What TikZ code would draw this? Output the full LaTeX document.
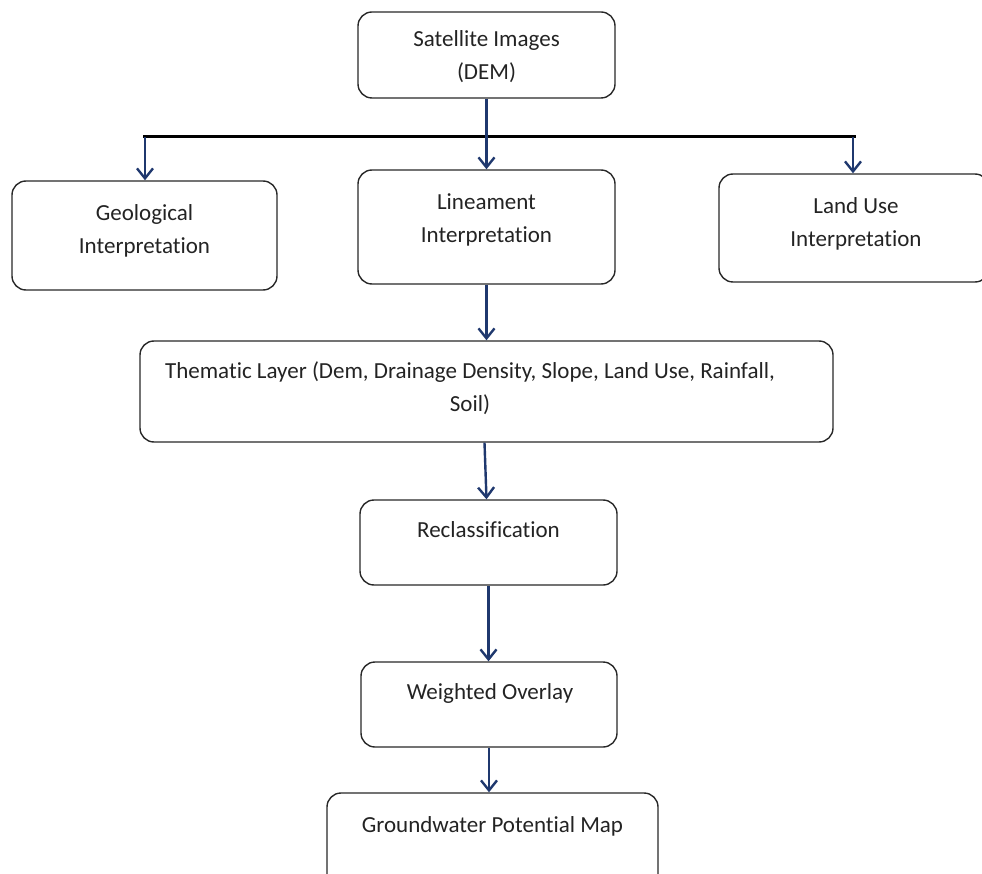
\documentclass[tikz,border=0pt]{standalone}
\usepackage{fontspec}
\setmainfont{Carlito}[Ligatures=NoCommon]
\usetikzlibrary{arrows.meta}
\definecolor{navy}{RGB}{31,56,110}
\definecolor{txtc}{RGB}{35,35,35}
\definecolor{edgec}{RGB}{40,40,40}
\tikzset{
  box/.style={draw=edgec, line width=1.4pt, rounded corners=14pt, inner sep=0pt},
  txt/.style={text=txtc, font=\fontsize{23}{33}\selectfont, align=center, inner sep=0pt},
  arr/.style={draw=navy, line width=2.4pt, -{Straight Barb[length=10pt,width=16pt,line width=2.4pt]}},
  bar/.style={draw=black, line width=3pt}
}
\begin{document}
\begin{tikzpicture}[x=1pt,y=-1pt]
\useasboundingbox (0,0) rectangle (982,874);
\clip (0,0) rectangle (982,874);
% boxes
\node[box, minimum width=257pt, minimum height=86pt] (sat) at (486.5,55) {};
\node[box, minimum width=265pt, minimum height=109pt] (geo) at (144.5,235.5) {};
\node[box, minimum width=257pt, minimum height=114pt] (lin) at (486.5,227) {};
\node[box, minimum width=270pt, minimum height=108pt] (lu) at (854,228) {};
\node[box, minimum width=693pt, minimum height=101pt] (them) at (486.5,391.5) {};
\node[box, minimum width=257pt, minimum height=85pt] (rec) at (488.5,542.5) {};
\node[box, minimum width=256pt, minimum height=85pt] (wo) at (489,704.5) {};
\node[box, minimum width=331pt, minimum height=110pt] (gw) at (492.5,848) {};
% texts
\node[txt] (satT) at (486.5,57) {Satellite Images\\(DEM)};
\node[txt] (geoT) at (144.5,231) {Geological\\Interpretation};
\node[txt] (linT) at (486.5,220) {Lineament\\Interpretation};
\node[txt] (luT) at (856,224) {Land Use\\Interpretation};
\node[txt] (themT) at (470,388) {Thematic Layer (Dem, Drainage Density, Slope, Land Use, Rainfall,\\Soil)};
\node[txt] (recT) at (488.5,530) {Reclassification};
\node[txt] (woT) at (490,693) {Weighted Overlay};
\node[txt] (gwT) at (492.5,826) {Groundwater Potential Map};
% bar
\coordinate (bl) at (143,137);
\coordinate (br) at (856,137);
\draw[bar] (bl) -- (br);
\coordinate (bg) at (145,137);
\coordinate (bu) at (853,137);
\draw[arr] (bg) -- (bg |- geo.north);
\draw[arr] (bu) -- (bu |- lu.north);
\draw[arr] (sat.south) -- (lin.north);
\draw[arr] (lin.south) -- (them.north);
\draw[arr] ([xshift=-2pt]them.south) -- ([xshift=-2pt]rec.north);
\draw[arr] (rec.south) -- (rec.south |- wo.north);
\draw[arr] (wo.south) -- (wo.south |- gw.north);
\end{tikzpicture}
\end{document}
